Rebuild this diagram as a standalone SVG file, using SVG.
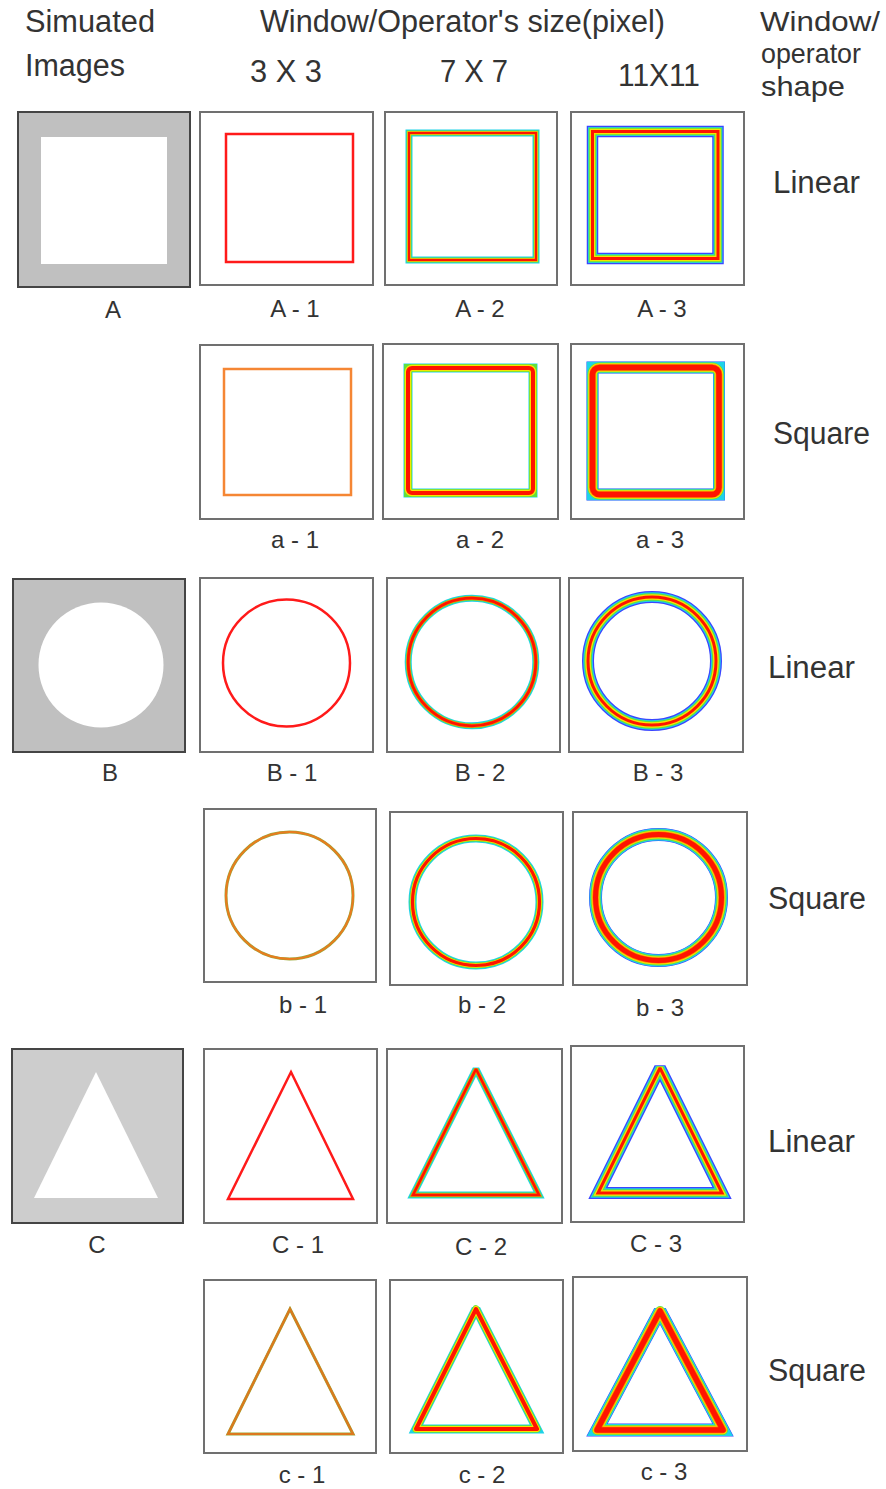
<svg xmlns="http://www.w3.org/2000/svg" xmlns:xlink="http://www.w3.org/1999/xlink" width="886" height="1489" viewBox="0 0 886 1489">
<style>
text{font-family:"Liberation Sans",Arial,sans-serif;fill:#333}
.hdr{font-size:31px}
.hdr2{font-size:28px}
.row{font-size:31px}
.lbl{font-size:24px;text-anchor:middle}
.frame{fill:#fff;stroke:#707070;stroke-width:2}
.src{stroke:#454545;stroke-width:2}
.bd{fill:none;stroke-linejoin:miter;stroke-miterlimit:2}
.rd{fill:none;stroke-linejoin:round}
.b1{stroke:#3a46ff}
.c1{stroke:#1ed2e8}
.g1{stroke:#5ee040}
.y1{stroke:#f7e400}
.o1{stroke:#ff8a00}
.r1{stroke:#ff1400}
</style>
<defs>
<rect id="sqA2" x="409" y="133" width="127" height="127"/>
<rect id="sqA3" x="592.5" y="131.5" width="125.5" height="127"/>
<rect id="sqa2" x="408" y="368" width="125" height="125"/>
<rect id="sqa2r" x="408" y="368" width="125" height="125" rx="4"/>
<rect id="sqa3" x="592.5" y="367.5" width="126.5" height="127"/>
<rect id="sqa3r" x="592.5" y="367.5" width="126.5" height="127" rx="7"/>
<circle id="ciB2" cx="472" cy="662" r="63.8"/>
<circle id="ciB3" cx="652" cy="661" r="64"/>
<circle id="cib2" cx="476" cy="902" r="63.5"/>
<circle id="cib3" cx="658.5" cy="897.5" r="63"/>
<polygon id="trC2" points="476,1069 539,1195 413,1195"/>
<polygon id="trC3" points="660,1068 722,1193 598,1193"/>
<polygon id="trc2" points="476,1309 537,1429 416,1429"/>
<polygon id="trc3" points="660,1311 723,1430 597,1430"/>
</defs>

<g id="header">
<text class="hdr" x="25" y="32" textLength="130" lengthAdjust="spacingAndGlyphs">Simuated</text>
<text class="hdr" x="25" y="76" textLength="100" lengthAdjust="spacingAndGlyphs">Images</text>
<text class="hdr" x="260" y="32" textLength="405" lengthAdjust="spacingAndGlyphs">Window/Operator's size(pixel)</text>
<text class="hdr" x="250" y="82" textLength="72" lengthAdjust="spacingAndGlyphs">3 X 3</text>
<text class="hdr" x="440" y="82" textLength="68" lengthAdjust="spacingAndGlyphs">7 X 7</text>
<text class="hdr" x="618" y="86" textLength="82" lengthAdjust="spacingAndGlyphs">11X11</text>
<text class="hdr2" x="760" y="31" textLength="120" lengthAdjust="spacingAndGlyphs">Window/</text>
<text class="hdr2" x="761" y="63" textLength="100" lengthAdjust="spacingAndGlyphs">operator</text>
<text class="hdr2" x="761" y="96" textLength="84" lengthAdjust="spacingAndGlyphs">shape</text>
</g>

<g id="row-labels">
<text class="row" x="773" y="193" textLength="87" lengthAdjust="spacingAndGlyphs">Linear</text>
<text class="row" x="773" y="444" textLength="97" lengthAdjust="spacingAndGlyphs">Square</text>
<text class="row" x="768" y="678" textLength="87" lengthAdjust="spacingAndGlyphs">Linear</text>
<text class="row" x="768" y="909" textLength="98" lengthAdjust="spacingAndGlyphs">Square</text>
<text class="row" x="768" y="1152" textLength="87" lengthAdjust="spacingAndGlyphs">Linear</text>
<text class="row" x="768" y="1381" textLength="98" lengthAdjust="spacingAndGlyphs">Square</text>
</g>

<!-- Row A -->
<g id="A">
<rect class="src" x="18" y="112" width="172" height="175" fill="#c0c0c0"/>
<rect x="41" y="137" width="126" height="127" fill="#fff"/>
<text class="lbl" x="113" y="318">A</text>
</g>
<g id="A-1">
<rect class="frame" x="200" y="112" width="173" height="173"/>
<rect x="226" y="134" width="127" height="128" fill="none" stroke="#ff1a1a" stroke-width="2.5"/>
<text class="lbl" x="295" y="317">A - 1</text>
</g>
<g id="A-2">
<rect class="frame" x="385" y="112" width="172" height="173"/>
<use xlink:href="#sqA2" class="bd c1" stroke-width="7"/>
<use xlink:href="#sqA2" class="bd g1" stroke-width="5"/>
<use xlink:href="#sqA2" class="bd y1" stroke-width="3.6"/>
<use xlink:href="#sqA2" class="bd r1" stroke-width="2.4"/>
<text class="lbl" x="480" y="317">A - 2</text>
</g>
<g id="A-3">
<rect class="frame" x="571" y="112" width="173" height="173"/>
<use xlink:href="#sqA3" class="bd b1" stroke-width="11.5"/>
<use xlink:href="#sqA3" class="bd c1" stroke-width="9"/>
<use xlink:href="#sqA3" class="bd g1" stroke-width="7.5"/>
<use xlink:href="#sqA3" class="bd y1" stroke-width="5.5"/>
<use xlink:href="#sqA3" class="bd r1" stroke-width="3"/>
<text class="lbl" x="662" y="317">A - 3</text>
</g>

<!-- Row a -->
<g id="a-1">
<rect class="frame" x="200" y="345" width="173" height="174"/>
<rect x="224" y="369" width="127" height="126" fill="none" stroke="#f58634" stroke-width="2.5"/>
<text class="lbl" x="295" y="548">a - 1</text>
</g>
<g id="a-2">
<rect class="frame" x="383" y="344" width="175" height="175"/>
<use xlink:href="#sqa2" class="bd c1" stroke-width="9"/>
<use xlink:href="#sqa2" class="bd g1" stroke-width="8"/>
<use xlink:href="#sqa2r" class="rd y1" stroke-width="6.5"/>
<use xlink:href="#sqa2r" class="rd r1" stroke-width="4"/>
<text class="lbl" x="480" y="548">a - 2</text>
</g>
<g id="a-3">
<rect class="frame" x="571" y="344" width="173" height="175"/>
<use xlink:href="#sqa3" class="bd b1" stroke-width="12"/>
<use xlink:href="#sqa3" class="bd c1" stroke-width="11.4"/>
<use xlink:href="#sqa3r" class="rd g1" stroke-width="10"/>
<use xlink:href="#sqa3r" class="rd y1" stroke-width="8.5"/>
<use xlink:href="#sqa3r" class="rd o1" stroke-width="7"/>
<use xlink:href="#sqa3r" class="rd r1" stroke-width="5.5"/>
<text class="lbl" x="660" y="548">a - 3</text>
</g>

<!-- Row B -->
<g id="B">
<rect class="src" x="13" y="579" width="172" height="173" fill="#c0c0c0"/>
<circle cx="101" cy="665" r="62.5" fill="#fff"/>
<text class="lbl" x="110" y="781">B</text>
</g>
<g id="B-1">
<rect class="frame" x="200" y="578" width="173" height="174"/>
<circle cx="286.5" cy="663" r="63.5" fill="none" stroke="#ff1a1a" stroke-width="2.5"/>
<text class="lbl" x="292" y="781">B - 1</text>
</g>
<g id="B-2">
<rect class="frame" x="387" y="578" width="173" height="174"/>
<use xlink:href="#ciB2" class="bd c1" stroke-width="7"/>
<use xlink:href="#ciB2" class="bd g1" stroke-width="5"/>
<use xlink:href="#ciB2" class="bd o1" stroke-width="3.8"/>
<use xlink:href="#ciB2" class="bd r1" stroke-width="2.8"/>
<text class="lbl" x="480" y="781">B - 2</text>
</g>
<g id="B-3">
<rect class="frame" x="569" y="578" width="174" height="174"/>
<use xlink:href="#ciB3" class="bd b1" stroke-width="12"/>
<use xlink:href="#ciB3" class="bd c1" stroke-width="9.5"/>
<use xlink:href="#ciB3" class="bd g1" stroke-width="7.5"/>
<use xlink:href="#ciB3" class="bd y1" stroke-width="5.5"/>
<use xlink:href="#ciB3" class="bd r1" stroke-width="3"/>
<text class="lbl" x="658" y="781">B - 3</text>
</g>

<!-- Row b -->
<g id="b-1">
<rect class="frame" x="204" y="809" width="172" height="173"/>
<circle cx="289.5" cy="895.5" r="63.5" fill="none" stroke="#9aa838" stroke-width="3"/>
<circle cx="289.5" cy="895.5" r="63.5" fill="none" stroke="#ea7a1e" stroke-width="2"/>
<text class="lbl" x="303" y="1013">b - 1</text>
</g>
<g id="b-2">
<rect class="frame" x="390" y="812" width="173" height="173"/>
<use xlink:href="#cib2" class="bd c1" stroke-width="8"/>
<use xlink:href="#cib2" class="bd g1" stroke-width="6"/>
<use xlink:href="#cib2" class="bd y1" stroke-width="4.6"/>
<use xlink:href="#cib2" class="bd r1" stroke-width="3.2"/>
<text class="lbl" x="482" y="1013">b - 2</text>
</g>
<g id="b-3">
<rect class="frame" x="573" y="812" width="174" height="173"/>
<use xlink:href="#cib3" class="bd b1" stroke-width="13"/>
<use xlink:href="#cib3" class="bd c1" stroke-width="12"/>
<use xlink:href="#cib3" class="bd g1" stroke-width="10"/>
<use xlink:href="#cib3" class="bd y1" stroke-width="8"/>
<use xlink:href="#cib3" class="bd o1" stroke-width="6.5"/>
<use xlink:href="#cib3" class="bd r1" stroke-width="5"/>
<text class="lbl" x="660" y="1016">b - 3</text>
</g>

<!-- Row C -->
<g id="C">
<rect class="src" x="12" y="1049" width="171" height="174" fill="#cdcdcd"/>
<polygon points="96,1072 158,1198 34,1198" fill="#fff"/>
<text class="lbl" x="97" y="1253">C</text>
</g>
<g id="C-1">
<rect class="frame" x="204" y="1049" width="173" height="174"/>
<polygon points="291,1072 353,1199 228,1199" fill="none" stroke="#ff1a1a" stroke-width="2.5" stroke-linejoin="miter" stroke-miterlimit="4"/>
<text class="lbl" x="298" y="1253">C - 1</text>
</g>
<g id="C-2">
<rect class="frame" x="387" y="1049" width="175" height="174"/>
<use xlink:href="#trC2" class="bd c1" stroke-width="7"/>
<use xlink:href="#trC2" class="bd g1" stroke-width="5"/>
<use xlink:href="#trC2" class="bd o1" stroke-width="3.6"/>
<use xlink:href="#trC2" class="bd r1" stroke-width="2.6"/>
<text class="lbl" x="481" y="1255">C - 2</text>
</g>
<g id="C-3">
<rect class="frame" x="571" y="1046" width="173" height="176"/>
<use xlink:href="#trC3" class="bd b1" stroke-width="12"/>
<use xlink:href="#trC3" class="bd c1" stroke-width="9.5"/>
<use xlink:href="#trC3" class="bd g1" stroke-width="7.5"/>
<use xlink:href="#trC3" class="bd y1" stroke-width="5.5"/>
<use xlink:href="#trC3" class="bd r1" stroke-width="3"/>
<text class="lbl" x="656" y="1252">C - 3</text>
</g>

<!-- Row c -->
<g id="c-1">
<rect class="frame" x="204" y="1280" width="172" height="173"/>
<polygon points="290,1309 353,1434 228,1434" fill="none" stroke="#9aa838" stroke-width="3" stroke-linejoin="miter"/>
<polygon points="290,1309 353,1434 228,1434" fill="none" stroke="#dc781e" stroke-width="2.2" stroke-linejoin="miter"/>
<text class="lbl" x="302" y="1483">c - 1</text>
</g>
<g id="c-2">
<rect class="frame" x="390" y="1280" width="173" height="173"/>
<use xlink:href="#trc2" class="bd c1" stroke-width="9"/>
<use xlink:href="#trc2" class="rd g1" stroke-width="7.5"/>
<use xlink:href="#trc2" class="rd y1" stroke-width="6"/>
<use xlink:href="#trc2" class="rd r1" stroke-width="4"/>
<text class="lbl" x="482" y="1483">c - 2</text>
</g>
<g id="c-3">
<rect class="frame" x="573" y="1277" width="174" height="174"/>
<use xlink:href="#trc3" class="bd b1" stroke-width="13"/>
<use xlink:href="#trc3" class="bd c1" stroke-width="12"/>
<use xlink:href="#trc3" class="rd g1" stroke-width="10"/>
<use xlink:href="#trc3" class="rd y1" stroke-width="8.5"/>
<use xlink:href="#trc3" class="rd o1" stroke-width="7"/>
<use xlink:href="#trc3" class="rd r1" stroke-width="5.5"/>
<text class="lbl" x="664" y="1480">c - 3</text>
</g>
</svg>
